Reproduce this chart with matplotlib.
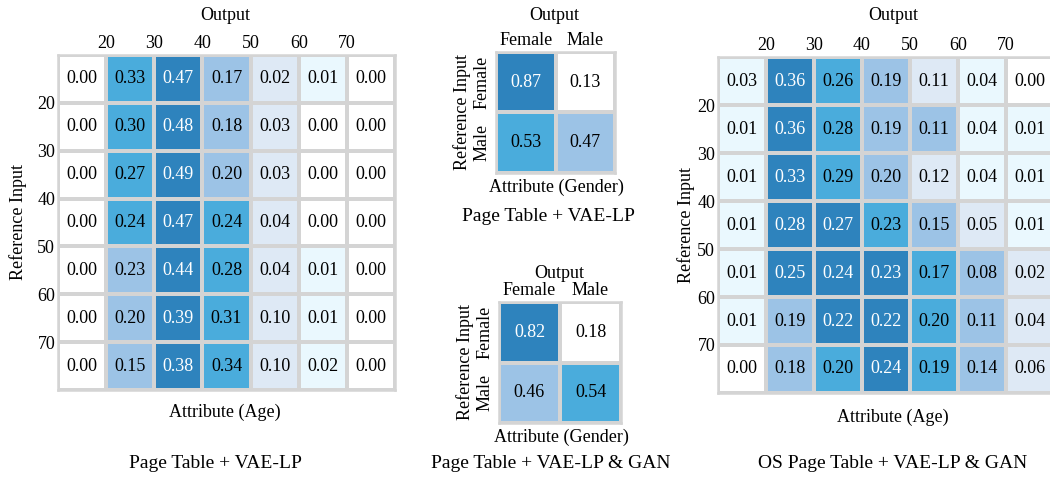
import matplotlib
matplotlib.use('Agg')
import numpy as np
import matplotlib.pyplot as plt
from matplotlib.colors import ListedColormap

plt.rcParams['font.family'] = ['Liberation Serif', 'DejaVu Serif']

age_ticks = ["20", "30", "40", "50", "60", "70"]
gender_labels = ["Female", "Male"]

age_vae = [[0.00, 0.33, 0.47, 0.17, 0.02, 0.01, 0.00],
           [0.00, 0.30, 0.48, 0.18, 0.03, 0.00, 0.00],
           [0.00, 0.27, 0.49, 0.20, 0.03, 0.00, 0.00],
           [0.00, 0.24, 0.47, 0.24, 0.04, 0.00, 0.00],
           [0.00, 0.23, 0.44, 0.28, 0.04, 0.01, 0.00],
           [0.00, 0.20, 0.39, 0.31, 0.10, 0.01, 0.00],
           [0.00, 0.15, 0.38, 0.34, 0.10, 0.02, 0.00]]
age_vae_shade = [[0, 4, 5, 3, 2, 1, 0],
                 [0, 4, 5, 3, 2, 0, 0],
                 [0, 4, 5, 3, 2, 0, 0],
                 [0, 4, 5, 4, 2, 0, 0],
                 [0, 3, 5, 4, 2, 1, 0],
                 [0, 3, 5, 4, 2, 1, 0],
                 [0, 3, 5, 4, 2, 1, 0]]

age_os = [[0.03, 0.36, 0.26, 0.19, 0.11, 0.04, 0.00],
          [0.01, 0.36, 0.28, 0.19, 0.11, 0.04, 0.01],
          [0.01, 0.33, 0.29, 0.20, 0.12, 0.04, 0.01],
          [0.01, 0.28, 0.27, 0.23, 0.15, 0.05, 0.01],
          [0.01, 0.25, 0.24, 0.23, 0.17, 0.08, 0.02],
          [0.01, 0.19, 0.22, 0.22, 0.20, 0.11, 0.04],
          [0.00, 0.18, 0.20, 0.24, 0.19, 0.14, 0.06]]
age_os_shade = [[1, 5, 4, 3, 2, 1, 0],
                [1, 5, 4, 3, 3, 1, 1],
                [1, 5, 4, 3, 2, 1, 1],
                [1, 5, 5, 4, 3, 2, 1],
                [1, 5, 5, 5, 4, 3, 2],
                [1, 3, 5, 5, 4, 3, 2],
                [0, 3, 4, 5, 4, 3, 2]]

gender_vae = [[0.87, 0.13], [0.53, 0.47]]
gender_vae_shade = [[5, 0], [4, 3]]
gender_gan = [[0.82, 0.18], [0.46, 0.54]]
gender_gan_shade = [[5, 0], [3, 4]]

cmap = ListedColormap(['#ffffff', '#eaf8fe', '#dee9f5', '#9cc3e6', '#4aacdc', '#2e83bd'])
grid_col = '#d4d4d4'
FS = 13

W, H = 1050, 478
fig = plt.figure(figsize=(W / 100, H / 100), dpi=100)


def px_axes(x0, y0, x1, y1):
    return fig.add_axes([x0 / W, 1 - y1 / H, (x1 - x0) / W, (y1 - y0) / H])


def ftext(x, y, s, size=FS, **kw):
    fig.text(x / W, 1 - y / H, s, ha='center', va='center', fontsize=size, **kw)


def heat(ax, vals, shade):
    vals = np.array(vals)
    n, m = vals.shape
    ax.pcolormesh(np.array(shade), cmap=cmap, vmin=-0.5, vmax=5.5,
                  edgecolors=grid_col, linewidth=1.5)
    ax.set_xlim(0, m)
    ax.set_ylim(n, 0)
    for i in range(n):
        for j in range(m):
            c = 'white' if shade[i][j] == 5 else 'black'
            ax.text(j + 0.5, i + 0.5, f"{vals[i, j]:.2f}", ha='center', va='center',
                    fontsize=FS, color=c)
    for s in ax.spines.values():
        s.set_color(grid_col)
        s.set_linewidth(1.8)
    ax.xaxis.tick_top()
    ax.tick_params(length=0, labelsize=FS, pad=2)


# left: Page Table + VAE-LP (age)
ax1 = px_axes(58, 55, 395, 390)
heat(ax1, age_vae, age_vae_shade)
ax1.set_xticks(range(1, 7), age_ticks)
ax1.set_yticks(range(1, 7), age_ticks)
ftext(225, 15, "Output")
ftext(18, 222, "Reference Input", rotation=90)
ftext(225, 412, "Attribute (Age)")
ftext(215, 464, "Page Table + VAE-LP", size=14)

# middle top: gender, VAE-LP
ax2 = px_axes(496, 52, 615, 173)
heat(ax2, gender_vae, gender_vae_shade)
ax2.set_xticks([0.5, 1.5], gender_labels)
ax2.set_yticks([0.5, 1.5], gender_labels, rotation=90, va='center')
ax2.tick_params(axis='y', pad=4)
ftext(554, 15, "Output")
ftext(462, 112, "Reference Input", rotation=90)
ftext(556, 187, "Attribute (Gender)")
ftext(548, 216, "Page Table + VAE-LP", size=14)

# middle bottom: gender, VAE-LP & GAN
ax3 = px_axes(499, 302, 621, 423)
heat(ax3, gender_gan, gender_gan_shade)
ax3.set_xticks([0.5, 1.5], gender_labels)
ax3.set_yticks([0.5, 1.5], gender_labels, rotation=90, va='center')
ax3.tick_params(axis='y', pad=4)
ftext(559, 273, "Output")
ftext(465, 362, "Reference Input", rotation=90)
ftext(561, 437, "Attribute (Gender)")
ftext(551, 464, "Page Table + VAE-LP & GAN", size=14)

# right: OS Page Table + VAE-LP & GAN (age)
ax4 = px_axes(718, 57, 1054, 393)
heat(ax4, age_os, age_os_shade)
ax4.set_xticks(range(1, 7), age_ticks)
ax4.set_yticks(range(1, 7), age_ticks)
ftext(893, 15, "Output")
ftext(686, 225, "Reference Input", rotation=90)
ftext(893, 417, "Attribute (Age)")
ftext(893, 464, "OS Page Table + VAE-LP & GAN", size=14)

fig.savefig("out.png", dpi=100)
